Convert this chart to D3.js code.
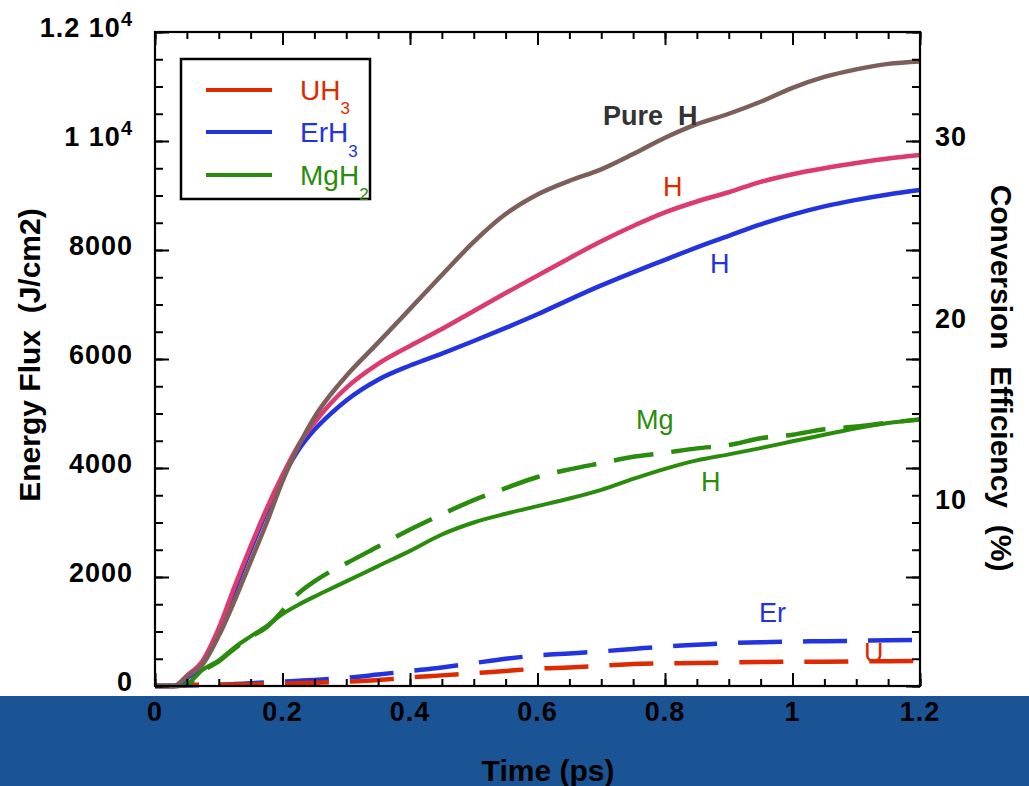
<!DOCTYPE html>
<html>
<head>
<meta charset="utf-8">
<script src="https://cdn.jsdelivr.net/npm/d3@7"></script>
<style>
  html, body { margin: 0; padding: 0; background: #ffffff; }
  svg { display: block; }
  text { font-family: "Liberation Sans", Arial, Helvetica, sans-serif; }
</style>
</head>
<body>
<svg id="chart" width="1029" height="786"></svg>
<script>
// ---------------- DATA ----------------
const timePs = [0, 0.03, 0.05, 0.075, 0.1, 0.125, 0.15, 0.175, 0.2, 0.225, 0.25, 0.275, 0.3, 0.35, 0.4, 0.45, 0.5, 0.55, 0.6, 0.65, 0.7, 0.75, 0.8, 0.85, 0.9, 0.95, 1.0, 1.05, 1.1, 1.15, 1.2];

const pureH   = [0, 0, 170, 400, 920, 1570, 2280, 2990, 3760, 4400, 4930, 5340, 5690, 6300, 6920, 7540, 8150, 8660, 9020, 9270, 9480, 9760, 10060, 10310, 10500, 10720, 10975, 11175, 11315, 11415, 11460];
const uh3H    = [0, 0, 190, 470, 1060, 1830, 2560, 3250, 3870, 4420, 4830, 5180, 5470, 5910, 6240, 6550, 6880, 7210, 7530, 7850, 8160, 8440, 8690, 8890, 9060, 9250, 9390, 9500, 9595, 9680, 9745];
const erh3H   = [0, 0, 140, 420, 1000, 1760, 2500, 3200, 3820, 4330, 4700, 4990, 5240, 5620, 5880, 6100, 6330, 6570, 6820, 7090, 7350, 7590, 7820, 8050, 8260, 8470, 8650, 8800, 8920, 9020, 9100];
const mgh2H   = [0, 0, 40, 300, 470, 710, 910, 1100, 1320, 1490, 1640, 1780, 1920, 2200, 2480, 2780, 3000, 3160, 3300, 3440, 3600, 3800, 3985, 4140, 4250, 4365, 4490, 4610, 4730, 4825, 4890];
const mgh2Mg  = [0, 0, 30, 280, 450, 690, 900, 1080, 1380, 1700, 1920, 2100, 2250, 2560, 2870, 3150, 3410, 3630, 3835, 3975, 4090, 4205, 4280, 4360, 4420, 4545, 4610, 4710, 4760, 4830, 4890];
const erh3Er  = [0, 0, 10, 15, 20, 35, 50, 65, 80, 95, 110, 130, 150, 210, 275, 340, 420, 500, 560, 598, 635, 680, 725, 755, 785, 803, 815, 822, 830, 840, 845];
const uh3U    = [0, 0, 20, 22, 25, 28, 30, 38, 45, 52, 60, 70, 80, 110, 160, 195, 235, 275, 318, 340, 370, 405, 415, 420, 430, 440, 445, 447, 450, 455, 458];

const xTickLabels = ["0", "0.2", "0.4", "0.6", "0.8", "1", "1.2"];
const xTickValues = [0, 0.2, 0.4, 0.6, 0.8, 1.0, 1.2];
const yTickValues = [0, 2000, 4000, 6000, 8000, 10000, 12000];
const yTickLabels = [["0"], ["2000"], ["4000"], ["6000"], ["8000"], ["1 10", "4"], ["1.2 10", "4"]];
const y2TickValues = [10, 20, 30];
const y2TickLabels = ["10", "20", "30"];

const legendNames = [["UH", "3"], ["ErH", "3"], ["MgH", "2"]];

// ---------------- STYLE ----------------
const C = {
  red: "#dd2a00", blue: "#2233e0", green: "#2a8c0c",
  pink: "#dc3a70", brown: "#7b5f58", band: "#1b5494", dark: "#333333"
};

const svg = d3.select("#chart");
const W = 1029, H = 786;
const L = 155, R = 920, T = 32, B = 686;

const x = d3.scaleLinear().domain([0, 1.2]).range([L, R]);
const y = d3.scaleLinear().domain([0, 12000]).range([B, T]);
const y2 = d3.scaleLinear().domain([0, 36]).range([B, T]);

// blue band at the bottom
svg.append("rect").attr("x", 0).attr("y", 696).attr("width", W).attr("height", H - 696).attr("fill", C.band);

// ---------------- CURVES ----------------
const line = d3.line().x(d => x(d[0])).y(d => y(d[1])).curve(d3.curveMonotoneX);
function series(vals) { return timePs.map((t, i) => [t, vals[i]]); }

const curves = [
  { v: erh3Er, c: C.blue, dash: "44,21", w: 4.5 },
  { v: uh3U, c: C.red, dash: "44,21", w: 4.5 },
  { v: mgh2Mg, c: C.green, dash: "40,18", w: 4.5 },
  { v: mgh2H, c: C.green, dash: null, w: 4 },
  { v: erh3H, c: C.blue, dash: null, w: 4.5 },
  { v: uh3H, c: C.pink, dash: null, w: 4.5 },
  { v: pureH, c: C.brown, dash: null, w: 4.5 }
];
const plot = svg.append("g");
curves.forEach(s => {
  plot.append("path")
    .attr("d", line(series(s.v)))
    .attr("fill", "none")
    .attr("stroke", s.c)
    .attr("stroke-width", s.w)
    .attr("stroke-dasharray", s.dash)
    .attr("stroke-linejoin", "round");
});

// ---------------- AXES ----------------
const xMinor = d3.range(0, 1.2001, 0.05);
const yMinor = d3.range(0, 12001, 500);

function styleAxis(g) {
  g.select(".domain").remove();
  g.selectAll("line").attr("stroke", "#000").attr("stroke-width", 2);
  g.selectAll("text").remove();
}
// bottom (ticks inward: up)
svg.append("g").attr("transform", `translate(0,${B})`).call(d3.axisTop(x).tickValues(xMinor).tickSize(7)).call(styleAxis);
svg.append("g").attr("transform", `translate(0,${B})`).call(d3.axisTop(x).tickValues(xTickValues).tickSize(13)).call(styleAxis);
// top (ticks inward: down)
svg.append("g").attr("transform", `translate(0,${T})`).call(d3.axisBottom(x).tickValues(xMinor).tickSize(7)).call(styleAxis);
svg.append("g").attr("transform", `translate(0,${T})`).call(d3.axisBottom(x).tickValues(xTickValues).tickSize(13)).call(styleAxis);
// left (ticks inward: right)
svg.append("g").attr("transform", `translate(${L},0)`).call(d3.axisRight(y).tickValues(yMinor).tickSize(8)).call(styleAxis);
svg.append("g").attr("transform", `translate(${L},0)`).call(d3.axisRight(y).tickValues(yTickValues).tickSize(14)).call(styleAxis);
// right (ticks inward: left)
svg.append("g").attr("transform", `translate(${R},0)`).call(d3.axisLeft(y).tickValues(yMinor).tickSize(8)).call(styleAxis);
svg.append("g").attr("transform", `translate(${R},0)`).call(d3.axisLeft(y).tickValues(yTickValues).tickSize(14)).call(styleAxis);

// frame
svg.append("rect").attr("x", L).attr("y", T).attr("width", R - L).attr("height", B - T)
  .attr("fill", "none").attr("stroke", "#000").attr("stroke-width", 2.2);

// tick labels
svg.append("g").selectAll("text").data(xTickValues).join("text")
  .attr("x", d => x(d)).attr("y", 721)
  .attr("text-anchor", "middle")
  .attr("font-size", 27).attr("font-weight", "bold")
  .attr("letter-spacing", 1)
  .text((d, i) => xTickLabels[i]);

const yl = svg.append("g").selectAll("text").data(yTickValues).join("text")
  .attr("x", 133).attr("y", d => y(d) + 5)
  .attr("text-anchor", "end")
  .attr("font-size", 27).attr("font-weight", "bold")
  .attr("letter-spacing", 1);
yl.each(function(d, i) {
  const t = d3.select(this);
  const lab = yTickLabels[i];
  t.append("tspan").text(lab[0]);
  if (lab[1]) {
    t.append("tspan").attr("font-size", 20).attr("dy", -11).text(lab[1]);
  }
});

svg.append("g").selectAll("text").data(y2TickValues).join("text")
  .attr("x", 935).attr("y", d => y2(d) + 5)
  .attr("text-anchor", "start")
  .attr("font-size", 27).attr("font-weight", "bold")
  .attr("letter-spacing", 1)
  .text((d, i) => y2TickLabels[i]);

// axis titles
svg.append("text")
  .attr("x", 548).attr("y", 781)
  .attr("text-anchor", "middle")
  .attr("font-size", 30).attr("font-weight", "bold")
  .text("Time (ps)");

svg.append("text")
  .attr("transform", "translate(40,355) rotate(-90)")
  .attr("text-anchor", "middle")
  .attr("font-size", 30).attr("font-weight", "bold")
  .style("white-space", "pre")
  .text("Energy Flux  (J/cm2)");

svg.append("text")
  .attr("transform", "translate(991,378) rotate(90)")
  .attr("text-anchor", "middle")
  .attr("font-size", 30).attr("font-weight", "bold")
  .style("white-space", "pre")
  .text("Conversion  Efficiency  (%)");

// ---------------- LEGEND ----------------
const lg = svg.append("g");
lg.append("rect").attr("x", 181).attr("y", 59).attr("width", 189).attr("height", 140)
  .attr("fill", "#fff").attr("stroke", "#000").attr("stroke-width", 2.5);
const legColors = [C.red, C.blue, C.green];
const legY = [90, 132, 175];
const legSubDy = [14, 15, 15];
legendNames.forEach((n, i) => {
  lg.append("line").attr("x1", 206).attr("x2", 272).attr("y1", legY[i]).attr("y2", legY[i])
    .attr("stroke", legColors[i]).attr("stroke-width", 4);
  const t = lg.append("text").attr("x", 300).attr("y", legY[i] + 10)
    .attr("font-size", 28).attr("fill", legColors[i]);
  t.append("tspan").text(n[0]);
  t.append("tspan").attr("font-size", 17).attr("dy", legSubDy[i]).text(n[1]);
});

// ---------------- CURVE LABELS ----------------
const labels = [
  { t: "Pure  H", x: 603, y: 125, c: C.dark, bold: true },
  { t: "H", x: 663, y: 196, c: C.red },
  { t: "H", x: 710, y: 273, c: C.blue },
  { t: "Mg", x: 636, y: 429, c: C.green },
  { t: "H", x: 701, y: 491, c: C.green },
  { t: "Er", x: 759, y: 622, c: C.blue },
  { t: "U", x: 864, y: 662, c: C.red }
];
svg.append("g").selectAll("text").data(labels).join("text")
  .attr("x", d => d.x).attr("y", d => d.y)
  .attr("font-size", 27)
  .attr("font-weight", d => d.bold ? "bold" : "normal")
  .attr("fill", d => d.c)
  .style("white-space", "pre")
  .text(d => d.t);
</script>
</body>
</html>
